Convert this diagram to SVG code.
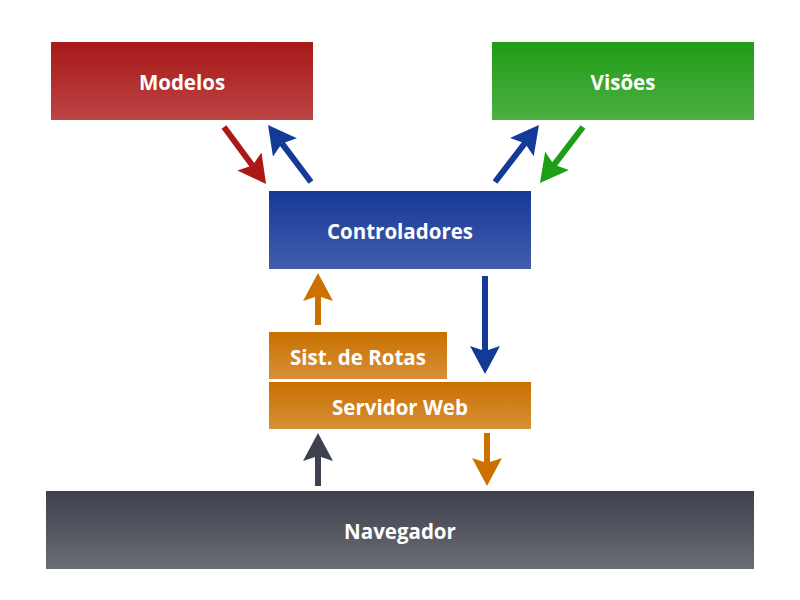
<svg xmlns="http://www.w3.org/2000/svg" width="800" height="600" viewBox="0 0 800 600">
<style>
.lbl{font-family:"Open Sans","Liberation Sans",sans-serif;font-weight:700;font-size:20.5px;fill:#ffffff;text-anchor:middle;dominant-baseline:central}
.sh{stroke-width:6;fill:none}
</style>
<defs>
<linearGradient id="gRed" x1="0" y1="0" x2="0" y2="1"><stop offset="0" stop-color="#A81818"/><stop offset="1" stop-color="#BC4545"/></linearGradient>
<linearGradient id="gGreen" x1="0" y1="0" x2="0" y2="1"><stop offset="0" stop-color="#209C16"/><stop offset="1" stop-color="#4CB042"/></linearGradient>
<linearGradient id="gBlue" x1="0" y1="0" x2="0" y2="1"><stop offset="0" stop-color="#163896"/><stop offset="1" stop-color="#425EAE"/></linearGradient>
<linearGradient id="gOrange" x1="0" y1="0" x2="0" y2="1"><stop offset="0" stop-color="#C87000"/><stop offset="1" stop-color="#D89038"/></linearGradient>
<linearGradient id="gGray" x1="0" y1="0" x2="0" y2="1"><stop offset="0" stop-color="#3E414C"/><stop offset="1" stop-color="#6A6D74"/></linearGradient>
<marker id="mRed" markerUnits="userSpaceOnUse" markerWidth="30" markerHeight="32" viewBox="0 -16 30 32" refX="5" refY="0" orient="auto"><path d="M28,0 L0,-15 L5,0 L0,15 Z" fill="#AA1818"/></marker>
<marker id="mBlue" markerUnits="userSpaceOnUse" markerWidth="30" markerHeight="32" viewBox="0 -16 30 32" refX="5" refY="0" orient="auto"><path d="M28,0 L0,-15 L5,0 L0,15 Z" fill="#143A98"/></marker>
<marker id="mGreen" markerUnits="userSpaceOnUse" markerWidth="30" markerHeight="32" viewBox="0 -16 30 32" refX="5" refY="0" orient="auto"><path d="M28,0 L0,-15 L5,0 L0,15 Z" fill="#1E9E14"/></marker>
<marker id="mOrange" markerUnits="userSpaceOnUse" markerWidth="30" markerHeight="32" viewBox="0 -16 30 32" refX="5" refY="0" orient="auto"><path d="M28,0 L0,-15 L5,0 L0,15 Z" fill="#CC7000"/></marker>
<marker id="mGray" markerUnits="userSpaceOnUse" markerWidth="30" markerHeight="32" viewBox="0 -16 30 32" refX="5" refY="0" orient="auto"><path d="M28,0 L0,-15 L5,0 L0,15 Z" fill="#3E4250"/></marker>
</defs>
<g id="modelos"><rect x="51" y="42" width="262" height="78" fill="url(#gRed)"/><text class="lbl" x="182" y="82">Modelos</text></g>
<g id="visoes"><rect x="492" y="42" width="262" height="78" fill="url(#gGreen)"/><text class="lbl" x="623" y="82">Visões</text></g>
<g id="controladores"><rect x="269" y="191" width="262" height="78" fill="url(#gBlue)"/><text class="lbl" x="400" y="231">Controladores</text></g>
<g id="rotas"><rect x="269" y="332" width="178" height="47" fill="url(#gOrange)"/><text class="lbl" x="358" y="357">Sist. de Rotas</text></g>
<g id="servidor"><rect x="269" y="382" width="262" height="47" fill="url(#gOrange)"/><text class="lbl" x="400" y="407">Servidor Web</text></g>
<g id="navegador"><rect x="46" y="491" width="708" height="78" fill="url(#gGray)"/><text class="lbl" x="400" y="531">Navegador</text></g>
<g id="connectors">
<line class="sh" x1="224" y1="127" x2="252.4" y2="165.5" stroke="#AA1818" marker-end="url(#mRed)"/>
<line class="sh" x1="311" y1="182" x2="281.9" y2="143.4" stroke="#143A98" marker-end="url(#mBlue)"/>
<line class="sh" x1="495" y1="182" x2="524.9" y2="143.2" stroke="#143A98" marker-end="url(#mBlue)"/>
<line class="sh" x1="583" y1="127" x2="554" y2="164.8" stroke="#1E9E14" marker-end="url(#mGreen)"/>
<line class="sh" x1="318" y1="325" x2="318" y2="296" stroke="#CC7000" marker-end="url(#mOrange)"/>
<line class="sh" x1="485" y1="276" x2="485" y2="351" stroke="#143A98" marker-end="url(#mBlue)"/>
<line class="sh" x1="318" y1="486" x2="318" y2="456" stroke="#3E4250" marker-end="url(#mGray)"/>
<line class="sh" x1="487" y1="433" x2="487" y2="463" stroke="#CC7000" marker-end="url(#mOrange)"/>
</g>
</svg>
